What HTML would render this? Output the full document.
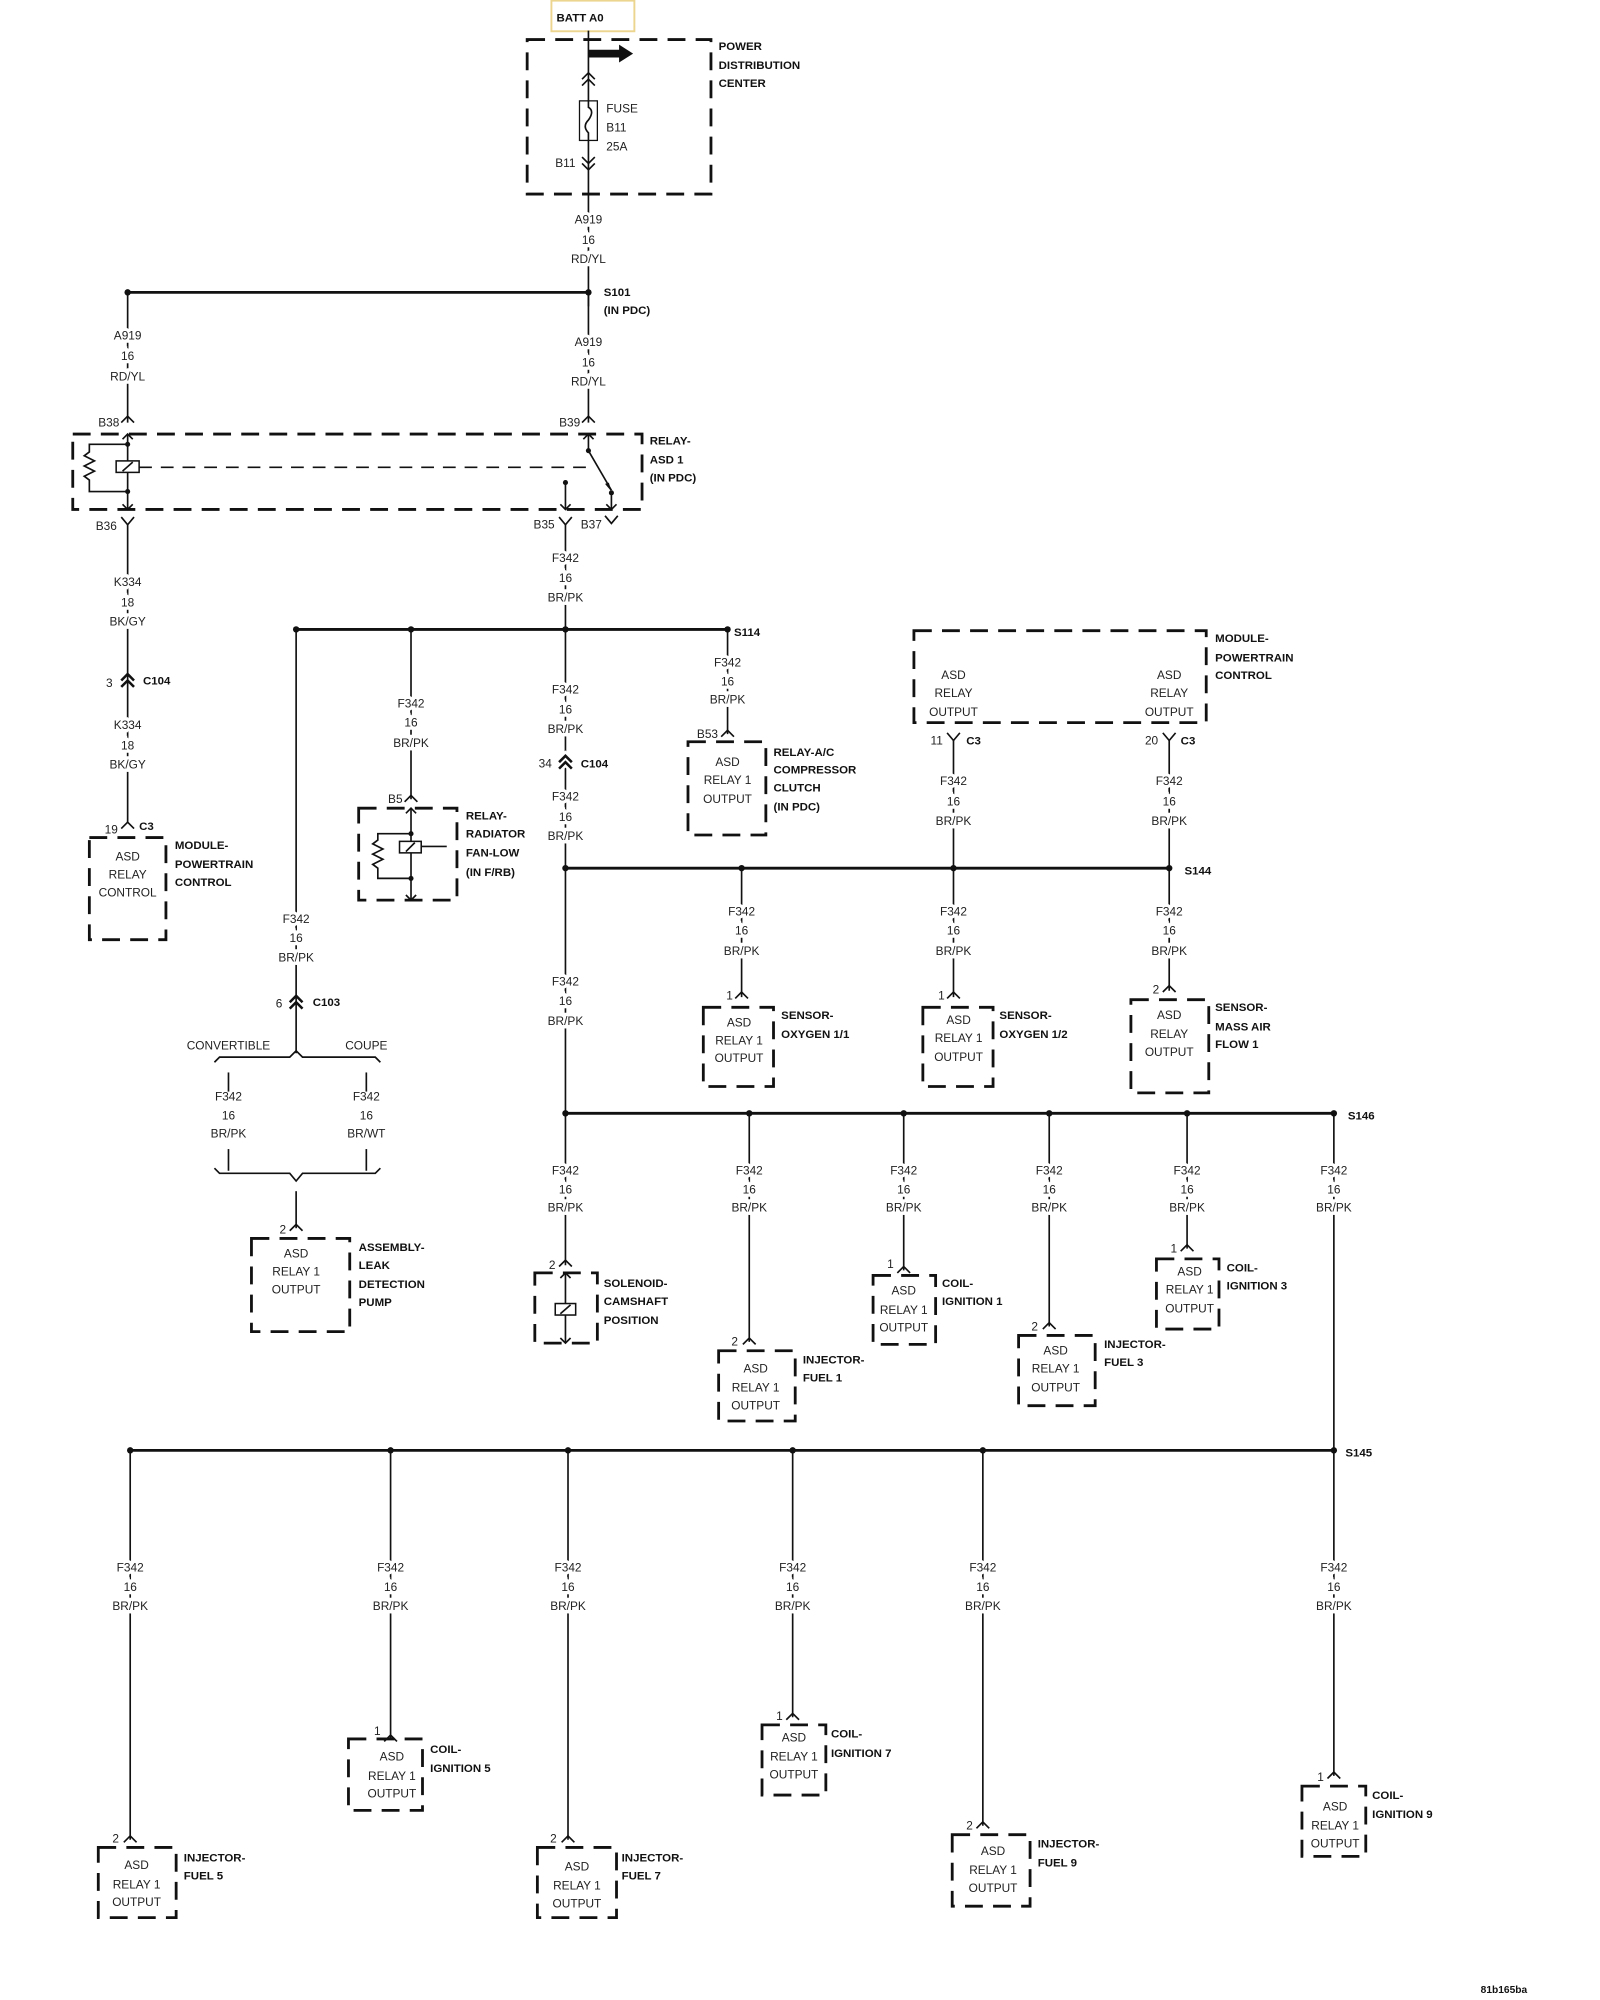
<!DOCTYPE html>
<html><head><meta charset="utf-8"><style>
html,body{margin:0;padding:0;background:#fff;width:1600px;height:2000px;overflow:hidden}
svg{display:block}
text{font-family:"Liberation Sans",sans-serif;font-size:9.3px;fill:#222}
.c{text-anchor:middle}
.b{font-weight:bold;font-size:9px;fill:#111}
.w{paint-order:stroke;stroke:#fff;stroke-width:5px}
.ln{stroke:#111;stroke-width:1.3;fill:none}
.bus{stroke:#111;stroke-width:2.2;fill:none}
.db{stroke:#111;stroke-width:2.2;fill:none;stroke-dasharray:14 8}
.dt{fill:#111}
</style></head><body>
<svg width="1600" height="2000" viewBox="0 0 1253.5 1566.5" preserveAspectRatio="none" xmlns="http://www.w3.org/2000/svg">
<!-- BATT -->
<rect x="432" y="0.5" width="65" height="24" fill="none" stroke="#ecd58e" stroke-width="1.5"/>
<text x="436" y="17" class="b">BATT A0</text>
<rect x="413" y="31" width="144" height="121" class="db"/>
<text x="563" y="39" class="b">POWER</text><text x="563" y="54" class="b">DISTRIBUTION</text><text x="563" y="68" class="b">CENTER</text>
<line x1="461" y1="24" x2="461" y2="240" class="ln"/>
<path d="M461,39 h24 v-4 l11,7 l-11,7 v-4 h-24z" fill="#111"/>
<path d="M456,62 l5,-5 l5,5 M456,67 l5,-5 l5,5" class="ln"/>
<rect x="454" y="79" width="14" height="31" fill="#fff" stroke="#111" stroke-width="1"/>
<path d="M461,79 v5 q5,3 0,10 q-5,5 0,10 v6" class="ln"/>
<text x="475" y="88">FUSE</text><text x="475" y="103">B11</text><text x="475" y="118">25A</text>
<text x="435" y="131">B11</text>
<path d="M456,123 l5,5 l5,-5 M456,128 l5,5 l5,-5" class="ln"/>
<text x="461" y="175" class="c w">A919</text><text x="461" y="191" class="c w">16</text><text x="461" y="206" class="c w">RD/YL</text>
<!-- S101 -->
<line x1="100" y1="229" x2="461" y2="229" class="bus"/>
<circle cx="100" cy="229" r="2.5" class="dt"/><circle cx="461" cy="229" r="2.5" class="dt"/>
<text x="473" y="232" class="b">S101</text><text x="473" y="246" class="b">(IN PDC)</text>
<line x1="100" y1="229" x2="100" y2="331" class="ln"/>
<line x1="461" y1="229" x2="461" y2="331" class="ln"/>
<text x="100" y="266" class="c w">A919</text><text x="100" y="282" class="c w">16</text><text x="100" y="298" class="c w">RD/YL</text>
<text x="461" y="271" class="c w">A919</text><text x="461" y="287" class="c w">16</text><text x="461" y="302" class="c w">RD/YL</text>
<text x="77" y="334">B38</text><path d="M95,331 l5,-5 l5,5" class="ln"/>
<text x="438" y="334">B39</text><path d="M456,331 l5,-5 l5,5" class="ln"/>
<!-- relay ASD -->
<rect x="57" y="340" width="446" height="59" class="db"/>
<text x="509" y="348" class="b">RELAY-</text><text x="509" y="363" class="b">ASD 1</text><text x="509" y="377" class="b">(IN PDC)</text>
<line x1="100" y1="340" x2="100" y2="399" class="ln"/>
<path d="M96,344 l4,-4 l4,4 M96,395 l4,4 l4,-4" class="ln"/>
<circle cx="100" cy="348" r="2" class="dt"/><circle cx="100" cy="385" r="2" class="dt"/>
<path d="M100,348 h-30 v6 l-4,3 l8,4 l-8,4 l8,4 l-8,4 l4,3 v9 h30" class="ln"/>
<rect x="91" y="361" width="18" height="9" fill="#fff" stroke="#111" stroke-width="1.2"/>
<line x1="96" y1="369" x2="104" y2="362" class="ln"/>
<line x1="109" y1="366" x2="461" y2="366" class="ln" stroke-dasharray="10 7"/>
<line x1="461" y1="340" x2="461" y2="353" class="ln"/><path d="M457,344 l4,-4 l4,4" class="ln"/>
<circle cx="461" cy="353" r="2" class="dt"/>
<line x1="461" y1="353" x2="479" y2="384" class="ln"/>
<path d="M479,385 l-5,-6 l3,-1z" fill="#111"/>
<circle cx="479" cy="386" r="2" class="dt"/>
<line x1="479" y1="386" x2="479" y2="399" class="ln"/><path d="M475,395 l4,4 l4,-4" class="ln"/>
<circle cx="443" cy="378" r="2" class="dt"/><line x1="443" y1="378" x2="443" y2="399" class="ln"/><path d="M439,395 l4,4 l4,-4" class="ln"/>
<text x="75" y="415">B36</text><path d="M95,405 l5,6 l5,-6" class="ln"/>
<text x="418" y="414">B35</text><path d="M438,405 l5,6 l5,-6" class="ln"/>
<text x="455" y="414">B37</text><path d="M474,404 l5,6 l5,-6" class="ln"/>
<!-- left K334 -->
<line x1="100" y1="411" x2="100" y2="645" class="ln"/>
<text x="100" y="459" class="c w">K334</text><text x="100" y="475" class="c w">18</text><text x="100" y="490" class="c w">BK/GY</text>
<path d="M95,533 l5,-5 l5,5 M95,538 l5,-5 l5,5" stroke="#111" stroke-width="2" fill="none"/>
<text x="83" y="538">3</text><text x="112" y="536" class="b">C104</text>
<text x="100" y="571" class="c w">K334</text><text x="100" y="587" class="c w">18</text><text x="100" y="602" class="c w">BK/GY</text>
<path d="M95,649 l5,-5 l5,5" class="ln"/>
<text x="82" y="653">19</text><text x="109" y="650" class="b">C3</text>
<rect x="70" y="656" width="60" height="80" class="db"/>
<text x="100" y="674" class="c">ASD</text><text x="100" y="688" class="c">RELAY</text><text x="100" y="702" class="c">CONTROL</text>
<text x="137" y="665" class="b">MODULE-</text><text x="137" y="680" class="b">POWERTRAIN</text><text x="137" y="694" class="b">CONTROL</text>
<!-- F342 bus 493 -->
<line x1="443" y1="411" x2="443" y2="493" class="ln"/>
<text x="443" y="440" class="c w">F342</text><text x="443" y="456" class="c w">16</text><text x="443" y="471" class="c w">BR/PK</text>
<line x1="232" y1="493" x2="570" y2="493" class="bus"/>
<circle cx="232" cy="493" r="2.5" class="dt"/><circle cx="322" cy="493" r="2.5" class="dt"/><circle cx="443" cy="493" r="2.5" class="dt"/><circle cx="570" cy="493" r="2.5" class="dt"/>
<text x="575" y="498" class="b">S114</text>
<!-- x=232 -->
<line x1="232" y1="493" x2="232" y2="825" class="ln"/>
<text x="232" y="723" class="c w">F342</text><text x="232" y="738" class="c w">16</text><text x="232" y="753" class="c w">BR/PK</text>
<path d="M227,785 l5,-5 l5,5 M227,790 l5,-5 l5,5" stroke="#111" stroke-width="2" fill="none"/>
<text x="216" y="789">6</text><text x="245" y="788" class="b">C103</text>
<text x="179" y="822" class="c">CONVERTIBLE</text><text x="287" y="822" class="c">COUPE</text>
<path d="M168,832 l4,-4 h55 l5,-5 l5,5 h57 l4,4" class="ln"/>
<line x1="179" y1="840" x2="179" y2="855" class="ln"/><line x1="287" y1="840" x2="287" y2="855" class="ln"/>
<text x="179" y="862" class="c">F342</text><text x="179" y="877" class="c">16</text><text x="179" y="891" class="c">BR/PK</text>
<text x="287" y="862" class="c">F342</text><text x="287" y="877" class="c">16</text><text x="287" y="891" class="c">BR/WT</text>
<line x1="179" y1="900" x2="179" y2="917" class="ln"/><line x1="287" y1="900" x2="287" y2="917" class="ln"/>
<path d="M168,915 l4,4 h55 l5,6 l5,-6 h57 l4,-4" class="ln"/>
<line x1="232" y1="933" x2="232" y2="962" class="ln"/>
<path d="M227,964 l5,-5 l5,5" class="ln"/><text x="219" y="966">2</text>
<rect x="197" y="970" width="77" height="73" class="db"/>
<text x="232" y="985" class="c">ASD</text><text x="232" y="999" class="c">RELAY 1</text><text x="232" y="1013" class="c">OUTPUT</text>
<text x="281" y="980" class="b">ASSEMBLY-</text><text x="281" y="994" class="b">LEAK</text><text x="281" y="1009" class="b">DETECTION</text><text x="281" y="1023" class="b">PUMP</text>
<!-- x=322 -->
<line x1="322" y1="493" x2="322" y2="626" class="ln"/>
<text x="322" y="554" class="c w">F342</text><text x="322" y="569" class="c w">16</text><text x="322" y="585" class="c w">BR/PK</text>
<path d="M317,628 l5,-5 l5,5" class="ln"/><text x="304" y="629">B5</text>
<rect x="281" y="633" width="77" height="72" class="db"/>
<line x1="322" y1="633" x2="322" y2="705" class="ln"/>
<path d="M318,637 l4,-4 l4,4 M318,701 l4,4 l4,-4" class="ln"/>
<circle cx="322" cy="653" r="2" class="dt"/><circle cx="322" cy="688" r="2" class="dt"/>
<path d="M322,653 h-26 v5 l-4,3 l8,4 l-8,4 l8,4 l-8,4 l4,3 v8 h26" class="ln"/>
<rect x="313" y="659" width="17" height="9" fill="#fff" stroke="#111" stroke-width="1.2"/>
<line x1="318" y1="667" x2="325" y2="660" class="ln"/>
<line x1="330" y1="663" x2="350" y2="663" class="ln"/>
<text x="365" y="642" class="b">RELAY-</text><text x="365" y="656" class="b">RADIATOR</text><text x="365" y="671" class="b">FAN-LOW</text><text x="365" y="686" class="b">(IN F/RB)</text>
<!-- x=443 middle -->
<line x1="443" y1="493" x2="443" y2="872" class="ln"/>
<text x="443" y="543" class="c w">F342</text><text x="443" y="559" class="c w">16</text><text x="443" y="574" class="c w">BR/PK</text>
<path d="M438,597 l5,-5 l5,5 M438,602 l5,-5 l5,5" stroke="#fff" stroke-width="6" fill="none"/>
<path d="M438,597 l5,-5 l5,5 M438,602 l5,-5 l5,5" stroke="#111" stroke-width="2" fill="none"/>
<text x="422" y="601">34</text><text x="455" y="601" class="b">C104</text>
<text x="443" y="627" class="c w">F342</text><text x="443" y="643" class="c w">16</text><text x="443" y="658" class="c w">BR/PK</text>
<text x="443" y="772" class="c w">F342</text><text x="443" y="787" class="c w">16</text><text x="443" y="803" class="c w">BR/PK</text>
<!-- S114 branch -->
<line x1="570" y1="493" x2="570" y2="575" class="ln"/>
<text x="570" y="522" class="c w">F342</text><text x="570" y="537" class="c w">16</text><text x="570" y="551" class="c w">BR/PK</text>
<path d="M565,577 l5,-5 l5,5" class="ln"/><text x="546" y="578">B53</text>
<rect x="539" y="581" width="61" height="73" class="db"/>
<text x="570" y="600" class="c">ASD</text><text x="570" y="614" class="c">RELAY 1</text><text x="570" y="629" class="c">OUTPUT</text>
<text x="606" y="592" class="b">RELAY-A/C</text><text x="606" y="606" class="b">COMPRESSOR</text><text x="606" y="620" class="b">CLUTCH</text><text x="606" y="635" class="b">(IN PDC)</text>
<!-- PCM module -->
<rect x="716" y="494" width="229" height="72" class="db"/>
<text x="747" y="532" class="c">ASD</text><text x="747" y="546" class="c">RELAY</text><text x="747" y="561" class="c">OUTPUT</text>
<text x="916" y="532" class="c">ASD</text><text x="916" y="546" class="c">RELAY</text><text x="916" y="561" class="c">OUTPUT</text>
<text x="952" y="503" class="b">MODULE-</text><text x="952" y="518" class="b">POWERTRAIN</text><text x="952" y="532" class="b">CONTROL</text>
<path d="M742,574 l5,6 l5,-6" class="ln"/><path d="M911,574 l5,6 l5,-6" class="ln"/>
<text x="729" y="583">11</text><text x="757" y="583" class="b">C3</text>
<text x="897" y="583">20</text><text x="925" y="583" class="b">C3</text>
<line x1="747" y1="580" x2="747" y2="681" class="ln"/><line x1="916" y1="580" x2="916" y2="681" class="ln"/>
<text x="747" y="615" class="c w">F342</text><text x="747" y="631" class="c w">16</text><text x="747" y="646" class="c w">BR/PK</text>
<text x="916" y="615" class="c w">F342</text><text x="916" y="631" class="c w">16</text><text x="916" y="646" class="c w">BR/PK</text>
<!-- S144 -->
<line x1="443" y1="680" x2="916" y2="680" class="bus"/>
<circle cx="443" cy="680" r="2.5" class="dt"/><circle cx="581" cy="680" r="2.5" class="dt"/><circle cx="747" cy="680" r="2.5" class="dt"/><circle cx="916" cy="680" r="2.5" class="dt"/>
<text x="928" y="685" class="b">S144</text>
<line x1="581" y1="680" x2="581" y2="781" class="ln"/><line x1="747" y1="680" x2="747" y2="781" class="ln"/><line x1="916" y1="680" x2="916" y2="776" class="ln"/>
<text x="581" y="717" class="c w">F342</text><text x="581" y="732" class="c w">16</text><text x="581" y="748" class="c w">BR/PK</text>
<text x="747" y="717" class="c w">F342</text><text x="747" y="732" class="c w">16</text><text x="747" y="748" class="c w">BR/PK</text>
<text x="916" y="717" class="c w">F342</text><text x="916" y="732" class="c w">16</text><text x="916" y="748" class="c w">BR/PK</text>
<path d="M576,782 l5,-5 l5,5" class="ln"/><text x="569" y="783">1</text>
<path d="M742,782 l5,-5 l5,5" class="ln"/><text x="735" y="783">1</text>
<path d="M911,777 l5,-5 l5,5" class="ln"/><text x="903" y="778">2</text>
<rect x="551" y="789" width="55" height="62" class="db"/>
<text x="579" y="804" class="c">ASD</text><text x="579" y="818" class="c">RELAY 1</text><text x="579" y="832" class="c">OUTPUT</text>
<text x="612" y="798" class="b">SENSOR-</text><text x="612" y="813" class="b">OXYGEN 1/1</text>
<rect x="723" y="789" width="55" height="62" class="db"/>
<text x="751" y="802" class="c">ASD</text><text x="751" y="816" class="c">RELAY 1</text><text x="751" y="831" class="c">OUTPUT</text>
<text x="783" y="798" class="b">SENSOR-</text><text x="783" y="813" class="b">OXYGEN 1/2</text>
<rect x="886" y="783" width="61" height="73" class="db"/>
<text x="916" y="798" class="c">ASD</text><text x="916" y="813" class="c">RELAY</text><text x="916" y="827" class="c">OUTPUT</text>
<text x="952" y="792" class="b">SENSOR-</text><text x="952" y="807" class="b">MASS AIR</text><text x="952" y="821" class="b">FLOW 1</text>
<!-- S146 -->
<line x1="443" y1="872" x2="1045" y2="872" class="bus"/>
<circle cx="443" cy="872" r="2.5" class="dt"/><circle cx="587" cy="872" r="2.5" class="dt"/><circle cx="708" cy="872" r="2.5" class="dt"/><circle cx="822" cy="872" r="2.5" class="dt"/><circle cx="930" cy="872" r="2.5" class="dt"/><circle cx="1045" cy="872" r="2.5" class="dt"/>
<text x="1056" y="877" class="b">S146</text>
<line x1="443" y1="872" x2="443" y2="991" class="ln"/>
<line x1="587" y1="872" x2="587" y2="1051" class="ln"/>
<line x1="708" y1="872" x2="708" y2="995" class="ln"/>
<line x1="822" y1="872" x2="822" y2="1039" class="ln"/>
<line x1="930" y1="872" x2="930" y2="978" class="ln"/>
<line x1="1045" y1="872" x2="1045" y2="1137" class="ln"/>
<text x="443" y="920" class="c w">F342</text><text x="443" y="935" class="c w">16</text><text x="443" y="949" class="c w">BR/PK</text>
<text x="587" y="920" class="c w">F342</text><text x="587" y="935" class="c w">16</text><text x="587" y="949" class="c w">BR/PK</text>
<text x="708" y="920" class="c w">F342</text><text x="708" y="935" class="c w">16</text><text x="708" y="949" class="c w">BR/PK</text>
<text x="822" y="920" class="c w">F342</text><text x="822" y="935" class="c w">16</text><text x="822" y="949" class="c w">BR/PK</text>
<text x="930" y="920" class="c w">F342</text><text x="930" y="935" class="c w">16</text><text x="930" y="949" class="c w">BR/PK</text>
<text x="1045" y="920" class="c w">F342</text><text x="1045" y="935" class="c w">16</text><text x="1045" y="949" class="c w">BR/PK</text>
<!-- solenoid -->
<path d="M438,992 l5,-5 l5,5" class="ln"/><text x="430" y="994">2</text>
<rect x="419" y="997" width="49" height="55" class="db"/>
<line x1="443" y1="997" x2="443" y2="1052" class="ln"/>
<path d="M439,1001 l4,-4 l4,4 M439,1048 l4,4 l4,-4" class="ln"/>
<rect x="435" y="1021" width="16" height="9" fill="#fff" stroke="#111" stroke-width="1.2"/>
<line x1="439" y1="1029" x2="447" y2="1022" class="ln"/>
<text x="473" y="1008" class="b">SOLENOID-</text><text x="473" y="1022" class="b">CAMSHAFT</text><text x="473" y="1037" class="b">POSITION</text>
<!-- injector 1 -->
<path d="M582,1053 l5,-5 l5,5" class="ln"/><text x="573" y="1054">2</text>
<rect x="563" y="1058" width="60" height="55" class="db"/>
<text x="592" y="1075" class="c">ASD</text><text x="592" y="1090" class="c">RELAY 1</text><text x="592" y="1104" class="c">OUTPUT</text>
<text x="629" y="1068" class="b">INJECTOR-</text><text x="629" y="1082" class="b">FUEL 1</text>
<!-- coil 1 -->
<path d="M703,997 l5,-5 l5,5" class="ln"/><text x="695" y="993">1</text>
<rect x="684" y="999" width="49" height="54" class="db"/>
<text x="708" y="1014" class="c">ASD</text><text x="708" y="1029" class="c">RELAY 1</text><text x="708" y="1043" class="c">OUTPUT</text>
<text x="738" y="1008" class="b">COIL-</text><text x="738" y="1022" class="b">IGNITION 1</text>
<!-- injector 3 -->
<path d="M817,1041 l5,-5 l5,5" class="ln"/><text x="808" y="1042">2</text>
<rect x="798" y="1046" width="60" height="55" class="db"/>
<text x="827" y="1061" class="c">ASD</text><text x="827" y="1075" class="c">RELAY 1</text><text x="827" y="1090" class="c">OUTPUT</text>
<text x="865" y="1056" class="b">INJECTOR-</text><text x="865" y="1070" class="b">FUEL 3</text>
<!-- coil 3 -->
<path d="M925,980 l5,-5 l5,5" class="ln"/><text x="917" y="981">1</text>
<rect x="906" y="986" width="49" height="55" class="db"/>
<text x="932" y="999" class="c">ASD</text><text x="932" y="1013" class="c">RELAY 1</text><text x="932" y="1028" class="c">OUTPUT</text>
<text x="961" y="996" class="b">COIL-</text><text x="961" y="1010" class="b">IGNITION 3</text>
<!-- S145 -->
<line x1="102" y1="1136" x2="1045" y2="1136" class="bus"/>
<circle cx="102" cy="1136" r="2.5" class="dt"/><circle cx="306" cy="1136" r="2.5" class="dt"/><circle cx="445" cy="1136" r="2.5" class="dt"/><circle cx="621" cy="1136" r="2.5" class="dt"/><circle cx="770" cy="1136" r="2.5" class="dt"/><circle cx="1045" cy="1136" r="2.5" class="dt"/>
<text x="1054" y="1141" class="b">S145</text>
<line x1="102" y1="1136" x2="102" y2="1441" class="ln"/>
<line x1="306" y1="1136" x2="306" y2="1362" class="ln"/>
<line x1="445" y1="1136" x2="445" y2="1441" class="ln"/>
<line x1="621" y1="1136" x2="621" y2="1345" class="ln"/>
<line x1="770" y1="1136" x2="770" y2="1430" class="ln"/>
<line x1="1045" y1="1136" x2="1045" y2="1391" class="ln"/>
<text x="102" y="1231" class="c w">F342</text><text x="102" y="1246" class="c w">16</text><text x="102" y="1261" class="c w">BR/PK</text>
<text x="306" y="1231" class="c w">F342</text><text x="306" y="1246" class="c w">16</text><text x="306" y="1261" class="c w">BR/PK</text>
<text x="445" y="1231" class="c w">F342</text><text x="445" y="1246" class="c w">16</text><text x="445" y="1261" class="c w">BR/PK</text>
<text x="621" y="1231" class="c w">F342</text><text x="621" y="1246" class="c w">16</text><text x="621" y="1261" class="c w">BR/PK</text>
<text x="770" y="1231" class="c w">F342</text><text x="770" y="1246" class="c w">16</text><text x="770" y="1261" class="c w">BR/PK</text>
<text x="1045" y="1231" class="c w">F342</text><text x="1045" y="1246" class="c w">16</text><text x="1045" y="1261" class="c w">BR/PK</text>
<!-- injector 5 -->
<path d="M97,1443 l5,-5 l5,5" class="ln"/><text x="88" y="1443">2</text>
<rect x="77" y="1447" width="61" height="55" class="db"/>
<text x="107" y="1464" class="c">ASD</text><text x="107" y="1479" class="c">RELAY 1</text><text x="107" y="1493" class="c">OUTPUT</text>
<text x="144" y="1458" class="b">INJECTOR-</text><text x="144" y="1472" class="b">FUEL 5</text>
<!-- coil 5 -->
<path d="M301,1364 l5,-5 l5,5" class="ln"/><text x="293" y="1359">1</text>
<rect x="273" y="1362" width="58" height="56" class="db"/>
<text x="307" y="1379" class="c">ASD</text><text x="307" y="1394" class="c">RELAY 1</text><text x="307" y="1408" class="c">OUTPUT</text>
<text x="337" y="1373" class="b">COIL-</text><text x="337" y="1388" class="b">IGNITION 5</text>
<!-- injector 7 -->
<path d="M440,1443 l5,-5 l5,5" class="ln"/><text x="431" y="1443">2</text>
<rect x="421" y="1447" width="62" height="55" class="db"/>
<text x="452" y="1465" class="c">ASD</text><text x="452" y="1480" class="c">RELAY 1</text><text x="452" y="1494" class="c">OUTPUT</text>
<text x="487" y="1458" class="b">INJECTOR-</text><text x="487" y="1472" class="b">FUEL 7</text>
<!-- coil 7 -->
<path d="M616,1347 l5,-5 l5,5" class="ln"/><text x="608" y="1347">1</text>
<rect x="597" y="1351" width="50" height="55" class="db"/>
<text x="622" y="1364" class="c">ASD</text><text x="622" y="1379" class="c">RELAY 1</text><text x="622" y="1393" class="c">OUTPUT</text>
<text x="651" y="1361" class="b">COIL-</text><text x="651" y="1376" class="b">IGNITION 7</text>
<!-- injector 9 -->
<path d="M765,1432 l5,-5 l5,5" class="ln"/><text x="757" y="1433">2</text>
<rect x="746" y="1437" width="61" height="56" class="db"/>
<text x="778" y="1453" class="c">ASD</text><text x="778" y="1468" class="c">RELAY 1</text><text x="778" y="1482" class="c">OUTPUT</text>
<text x="813" y="1447" class="b">INJECTOR-</text><text x="813" y="1462" class="b">FUEL 9</text>
<!-- coil 9 -->
<path d="M1040,1393 l5,-5 l5,5" class="ln"/><text x="1032" y="1395">1</text>
<rect x="1020" y="1399" width="50" height="55" class="db"/>
<text x="1046" y="1418" class="c">ASD</text><text x="1046" y="1433" class="c">RELAY 1</text><text x="1046" y="1447" class="c">OUTPUT</text>
<text x="1075" y="1409" class="b">COIL-</text><text x="1075" y="1424" class="b">IGNITION 9</text>
<text x="1160" y="1561" class="b" style="font-size:8px">81b165ba</text>
</svg>
</body></html>
